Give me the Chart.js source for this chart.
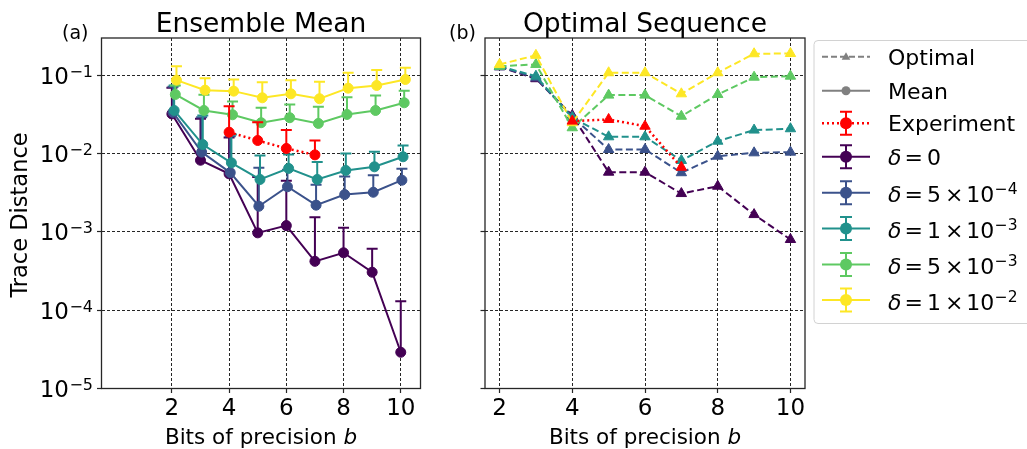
<!DOCTYPE html>
<html><head><meta charset="utf-8">
<script src="https://cdn.jsdelivr.net/npm/chart.js@4"></script>
<style>
html,body{margin:0;padding:0;background:#fff;overflow:hidden}
#wrap{position:relative;width:1027px;height:449px;background:#fff}
canvas{position:absolute;top:0}
#ca{left:0}
#cb{left:450px}
</style></head><body>
<div id="wrap"><canvas id="ca" width="450" height="449"></canvas><canvas id="cb" width="577" height="449"></canvas></div>
<script>
// ---------------- data ----------------
const bits = [2, 3, 4, 5, 6, 7, 8, 9, 10];
const expBits = [4, 5, 6, 7];

// Panel (a): ensemble mean values and upper error-bar ends
const meanD0     = [0.032, 0.0082, 0.0055, 0.00097, 0.0012, 0.00042, 0.00054, 0.000305, 0.000029];
const meanD0Up   = [0.069, 0.0277, 0.0160, 0.0050, 0.0045, 0.00154, 0.00113, 0.00061, 0.00013];
const meanD5e4   = [0.0335, 0.0104, 0.0057, 0.00212, 0.00376, 0.00219, 0.00299, 0.0032, 0.00456];
const meanD5e4Up = [0.071, 0.029, 0.0166, 0.00656, 0.0062, 0.0040, 0.0051, 0.00528, 0.00638];
const meanD1e3   = [0.0354, 0.0130, 0.0076, 0.00466, 0.00645, 0.00466, 0.00607, 0.00676, 0.00908];
const meanD1e3Up = [0.074, 0.0305, 0.0175, 0.0094, 0.0097, 0.0078, 0.0100, 0.0105, 0.01265];
const meanD5e3   = [0.0567, 0.0354, 0.0312, 0.0247, 0.0286, 0.0242, 0.0315, 0.0354, 0.0444];
const meanD5e3Up = [0.0738, 0.0562, 0.0461, 0.0383, 0.0422, 0.0394, 0.0523, 0.0551, 0.0632];
const meanD1e2   = [0.0863, 0.0643, 0.0625, 0.0514, 0.0578, 0.050, 0.0682, 0.0738, 0.088];
const meanD1e2Up = [0.130, 0.0916, 0.088, 0.0814, 0.0863, 0.0823, 0.107, 0.116, 0.124];
const expMean    = [0.0187, 0.01465, 0.0116, 0.0096];
const expMeanUp  = [0.0400, 0.0251, 0.0199, 0.0146];

// Panel (b): optimal sequence
const optD0   = [0.128, 0.090, 0.0305, 0.00577, 0.00577, 0.00308, 0.00382, 0.00166, 0.000798];
const optD5e4 = [0.128, 0.0926, 0.0294, 0.01125, 0.01125, 0.00568, 0.00924, 0.0102, 0.0104];
const optD1e3 = [0.130, 0.097, 0.0286, 0.01633, 0.01633, 0.00815, 0.01435, 0.0199, 0.0207];
const optD5e3 = [0.130, 0.137, 0.0213, 0.0556, 0.0556, 0.0299, 0.0567, 0.0942, 0.097];
const optD1e2 = [0.137, 0.179, 0.0247, 0.1073, 0.1073, 0.0578, 0.1073, 0.1875, 0.189];
const optExp  = [0.0259, 0.0272, 0.0223, 0.00668];

// ticks and labels
const xTickValues = [2, 4, 6, 8, 10];
const xTickLabels = ['2', '4', '6', '8', '10'];
const yTickValues = [1e-5, 1e-4, 1e-3, 1e-2, 1e-1];
const yTickSup = ['\u22125', '\u22124', '\u22123', '\u22122', '\u22121'];
const deltaMant = ['0', '5', '1', '5', '1'];
const deltaExp = [null, '\u22124', '\u22123', '\u22123', '\u22122'];
const titles = ['Ensemble Mean', 'Optimal Sequence'];
const panelTags = ['(a)', '(b)'];
const legendTop = ['Optimal', 'Mean', 'Experiment'];

const meanSeries = [meanD0, meanD5e4, meanD1e3, meanD5e3, meanD1e2];
const meanUpper = [meanD0Up, meanD5e4Up, meanD1e3Up, meanD5e3Up, meanD1e2Up];
const optSeries = [optD0, optD5e4, optD1e3, optD5e3, optD1e2];

// ---------------- styles ----------------
const FONT = "'DejaVu Sans', sans-serif";
const colors = ['#440154', '#3b528b', '#21918c', '#5ec962', '#fde725'];
const RED = '#ff0000';
const GRAY = '#808080';
const dodge = [0, 0.04, 0.08, 0.12, 0.16];
const TOP = 38, BOTTOM = 388.5, H = 449;
const A_LEFT = 101.5, A_RIGHT = 420.5, A_W = 450;
const B_OFF = 450, B_LEFT = 35, B_RIGHT = 355, B_W = 577;
const FRAME = '#262626';

function scalesFor(xMin, xMax, leftW) {
  const grid = { color: 'rgba(0,0,0,0.85)', lineWidth: 1, drawTicks: true, tickLength: 4.5,
                 tickColor: FRAME, tickWidth: 1.2, tickBorderDash: [] };
  return {
    x: { type: 'linear', min: xMin, max: xMax,
         afterBuildTicks: s => { s.ticks = xTickValues.map(v => ({ value: v })); },
         afterFit: s => { s.height = H - BOTTOM; },
         ticks: { display: false }, grid: grid,
         border: { display: false, dash: [3, 2] } },
    y: { type: 'logarithmic', min: 1e-5, max: 0.298,
         afterBuildTicks: s => { s.ticks = yTickValues.map(v => ({ value: v })); },
         afterFit: s => { s.width = leftW; },
         ticks: { display: false }, grid: grid,
         border: { display: false, dash: [3, 2] } }
  };
}

const errorBarPlugin = {
  id: 'errbars',
  beforeDatasetDraw(chart, args) {
    const ds = chart.data.datasets[args.index];
    if (!ds.errUp) return;
    const xs = chart.scales.x, ys = chart.scales.y, ctx = chart.ctx;
    ctx.save();
    ctx.strokeStyle = ds.borderColor; ctx.lineWidth = 2; ctx.setLineDash([]);
    ds.data.forEach((p, i) => {
      const px = xs.getPixelForValue(p.x), y0 = ys.getPixelForValue(p.y), y1 = ys.getPixelForValue(ds.errUp[i]);
      ctx.beginPath();
      ctx.moveTo(px, y0); ctx.lineTo(px, y1);
      ctx.moveTo(px - 5.5, y1); ctx.lineTo(px + 5.5, y1);
      ctx.stroke();
    });
    ctx.restore();
  }
};

function drawFrame(chart) {
  const a = chart.chartArea, ctx = chart.ctx;
  ctx.save(); ctx.strokeStyle = FRAME; ctx.lineWidth = 1.3; ctx.setLineDash([]);
  ctx.strokeRect(a.left, a.top, a.right - a.left, a.bottom - a.top);
  ctx.restore();
}

function drawCommonText(chart, idx, tagX) {
  const a = chart.chartArea, ctx = chart.ctx, xs = chart.scales.x;
  const cx = (a.left + a.right) / 2;
  ctx.save();
  ctx.fillStyle = '#000';
  ctx.textBaseline = 'alphabetic';
  ctx.font = '26.5px ' + FONT; ctx.textAlign = 'center';
  ctx.fillText(titles[idx], cx, 31.5);
  ctx.font = '19px ' + FONT; ctx.textAlign = 'left';
  ctx.fillText(panelTags[idx], tagX, 39);
  ctx.font = '23px ' + FONT; ctx.textAlign = 'center';
  xTickValues.forEach((v, i) => ctx.fillText(xTickLabels[i], xs.getPixelForValue(v), 414.5));
  ctx.textAlign = 'left';
  const t1 = 'Bits of precision ', t2 = 'b';
  ctx.font = '21.5px ' + FONT; const w1 = ctx.measureText(t1).width;
  ctx.font = 'italic 21.5px ' + FONT; const w2 = ctx.measureText(t2).width;
  const sx = cx - (w1 + w2) / 2;
  ctx.font = '21.5px ' + FONT; ctx.fillText(t1, sx, 443.5);
  ctx.font = 'italic 21.5px ' + FONT; ctx.fillText(t2, sx + w1, 443.5);
  ctx.restore();
}

const textA = {
  id: 'textA',
  afterDraw(chart) {
    drawFrame(chart);
    drawCommonText(chart, 0, 62);
    const ctx = chart.ctx, ys = chart.scales.y;
    ctx.save(); ctx.fillStyle = '#000'; ctx.textAlign = 'left'; ctx.textBaseline = 'alphabetic';
    yTickValues.forEach((v, i) => {
      const y = ys.getPixelForValue(v);
      ctx.font = '16px ' + FONT; const sw = ctx.measureText(yTickSup[i]).width;
      ctx.font = '23px ' + FONT; const mw = ctx.measureText('10').width;
      const xs0 = 93 - sw, xm = xs0 - mw - 0.5;
      ctx.fillText('10', xm, y + 8.5);
      ctx.font = '16px ' + FONT; ctx.fillText(yTickSup[i], xs0, y + 1.5);
    });
    ctx.translate(26.5, 215); ctx.rotate(-Math.PI / 2);
    ctx.font = '22.5px ' + FONT; ctx.textAlign = 'center';
    ctx.fillText('Trace Distance', 0, 0);
    ctx.restore();
  }
};

function triPath(ctx, x, y, r) {
  ctx.beginPath();
  for (let k = 0; k < 3; k++) {
    const ang = k * 2 * Math.PI / 3;
    const px = x + Math.sin(ang) * r, py = y - Math.cos(ang) * r;
    if (k === 0) ctx.moveTo(px, py); else ctx.lineTo(px, py);
  }
  ctx.closePath();
}

function drawLegend(chart) {
  const ctx = chart.ctx, ox = B_OFF;
  const L = 814 - ox, T = 40.5, Bt = 323.5, R = 1060 - ox, rr = 4;
  ctx.save();
  ctx.beginPath();
  ctx.moveTo(L + rr, T); ctx.lineTo(R, T); ctx.lineTo(R, Bt); ctx.lineTo(L + rr, Bt);
  ctx.arcTo(L, Bt, L, Bt - rr, rr); ctx.lineTo(L, T + rr); ctx.arcTo(L, T, L + rr, T, rr);
  ctx.closePath();
  ctx.fillStyle = 'rgba(255,255,255,0.85)'; ctx.fill();
  ctx.strokeStyle = '#d2d2d2'; ctx.lineWidth = 1; ctx.stroke();

  const hx1 = 822 - ox, hx2 = 870 - ox, hc = 846 - ox, tx = 888 - ox;
  const rowY = [56.7, 90.7, 123.3, 156.7, 192.7, 228.5, 264.5, 300];
  const line = (y, color, dash, lw) => {
    ctx.save(); ctx.strokeStyle = color; ctx.lineWidth = lw; ctx.setLineDash(dash);
    ctx.beginPath(); ctx.moveTo(hx1, y); ctx.lineTo(hx2, y); ctx.stroke(); ctx.restore();
  };
  const dot = (y, color, r) => { ctx.fillStyle = color; ctx.beginPath(); ctx.arc(hc, y, r, 0, 2 * Math.PI); ctx.fill(); };
  const err = (y, color) => {
    ctx.save(); ctx.strokeStyle = color; ctx.lineWidth = 2; ctx.setLineDash([]);
    ctx.beginPath();
    ctx.moveTo(hc, y - 11.5); ctx.lineTo(hc, y + 11.5);
    ctx.moveTo(hc - 6, y - 11.5); ctx.lineTo(hc + 6, y - 11.5);
    ctx.moveTo(hc - 6, y + 11.5); ctx.lineTo(hc + 6, y + 11.5);
    ctx.stroke(); ctx.restore();
  };
  line(rowY[0], GRAY, [6, 3], 2);
  ctx.fillStyle = GRAY; triPath(ctx, hc, rowY[0] + 0.5, 5); ctx.fill();
  line(rowY[1], GRAY, [], 2); dot(rowY[1], GRAY, 4.5);
  err(rowY[2], RED); line(rowY[2], RED, [2, 3], 2.5); dot(rowY[2], RED, 6);
  for (let k = 0; k < 5; k++) {
    const y = rowY[3 + k];
    err(y, colors[k]); line(y, colors[k], [], 2); dot(y, colors[k], 6);
  }
  ctx.fillStyle = '#000'; ctx.textAlign = 'left'; ctx.textBaseline = 'alphabetic';
  ctx.font = '22px ' + FONT;
  for (let i = 0; i < 3; i++) ctx.fillText(legendTop[i], tx, rowY[i] + 8);
  for (let k = 0; k < 5; k++) {
    const base = rowY[3 + k] + (deltaExp[k] ? 9.5 : 8);
    let x = tx;
    ctx.font = 'italic 22px ' + FONT; ctx.fillText('\u03b4', x, base); x += ctx.measureText('\u03b4').width + 3;
    ctx.font = '22px ' + FONT; ctx.fillText('=', x, base); x += ctx.measureText('=').width + 4;
    ctx.fillText(deltaMant[k], x, base); x += ctx.measureText(deltaMant[k]).width;
    if (deltaExp[k]) {
      x += 4; ctx.fillText('\u00d7', x, base); x += ctx.measureText('\u00d7').width + 3;
      ctx.fillText('10', x, base); x += ctx.measureText('10').width + 0.5;
      ctx.font = '15.5px ' + FONT; ctx.fillText(deltaExp[k], x, base - 8);
    }
  }
  ctx.restore();
}

const textB = {
  id: 'textB',
  afterDraw(chart) {
    drawFrame(chart);
    drawCommonText(chart, 1, 449 - B_OFF);
    drawLegend(chart);
  }
};

// ---------------- datasets ----------------
function ds(label, xs, ys, color, extra) {
  return Object.assign({
    label: label,
    data: xs.map((x, i) => ({ x: x, y: ys[i] })),
    borderColor: color, backgroundColor: color, pointBorderColor: color, pointBackgroundColor: color,
    borderWidth: 2, pointBorderWidth: 1, tension: 0, fill: false
  }, extra);
}

const dsA = [ds('Experiment', expBits, expMean, RED, { errUp: expMeanUp, borderDash: [2, 3], borderWidth: 2.5, pointRadius: 5, pointStyle: 'circle' })];
for (let k = 4; k >= 0; k--) {
  dsA.push(ds('delta' + k, bits.map(b => b + dodge[k]), meanSeries[k], colors[k],
    { errUp: meanUpper[k], pointRadius: 5, pointStyle: 'circle' }));
}
const dsB = [ds('Experiment', expBits, optExp, RED, { borderDash: [2, 3], borderWidth: 2.5, pointRadius: 6, pointStyle: 'triangle' })];
for (let k = 4; k >= 0; k--) {
  dsB.push(ds('delta' + k, bits, optSeries[k], colors[k], { borderDash: [7, 3.5], pointRadius: 6, pointStyle: 'triangle' }));
}

const common = {
  responsive: false, animation: false, devicePixelRatio: 1, events: [],
  plugins: { legend: { display: false }, tooltip: { enabled: false }, title: { display: false } }
};

new Chart(document.getElementById('ca'), {
  type: 'line',
  data: { datasets: dsA },
  options: Object.assign({}, common, {
    layout: { padding: { left: 0, top: TOP, right: A_W - A_RIGHT, bottom: 0 } },
    scales: scalesFor(-0.46, 10.69, A_LEFT)
  }),
  plugins: [errorBarPlugin, textA]
});

new Chart(document.getElementById('cb'), {
  type: 'line',
  data: { datasets: dsB },
  options: Object.assign({}, common, {
    layout: { padding: { left: 0, top: TOP, right: B_W - B_RIGHT, bottom: 0 } },
    scales: scalesFor(1.6, 10.4, B_LEFT)
  }),
  plugins: [errorBarPlugin, textB]
});
</script>
</body></html>
